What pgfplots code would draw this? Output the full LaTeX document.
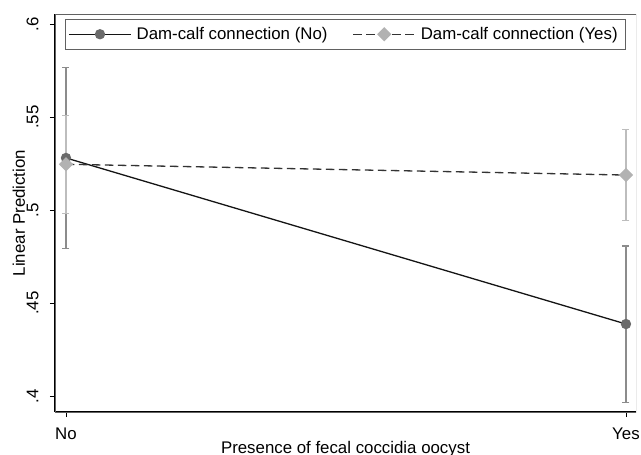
\documentclass[border=0pt]{standalone}
\usepackage{fontspec}
\setmainfont{Liberation Sans}
\usepackage{pgfplots}
\pgfplotsset{compat=1.18}

\definecolor{meanNo}{gray}{0.42}
\definecolor{ciNo}{gray}{0.55}
\definecolor{meanYes}{gray}{0.70}
\definecolor{ciYes}{gray}{0.74}
\definecolor{lineNo}{gray}{0.08}
\definecolor{lineYes}{gray}{0.20}
\definecolor{framegray}{gray}{0.38}

\newcommand{\chartfont}{\fontsize{16.9}{19.5}\selectfont}

\begin{document}
\begin{tikzpicture}
\path[use as bounding box] (-55bp,-43bp) rectangle (586bp,412bp);
\begin{axis}[
  scale only axis, width=581bp, height=398bp,
  xmin=-0.0196, xmax=1.0179, ymin=0.3914, ymax=0.6054,
  xtick={0,1}, xticklabels={No,Yes},
  ytick={0.4,0.45,0.5,0.55,0.6}, yticklabels={.4,.45,.5,.55,.6},
  tick align=outside, major tick length=5bp,
  every tick/.style={black, line width=0.9bp},
  axis x line*=bottom, axis y line*=left,
  axis line style={black, line width=1.2bp, -},
  font=\chartfont,
  yticklabel style={rotate=90, anchor=base, inner sep=0pt, font=\chartfont},
  xticklabel style={anchor=base, inner sep=0pt, font=\chartfont},
  yticklabel shift=11.7bp,
  xticklabel shift=22.5bp,
  xlabel={Presence of fecal coccidia oocyst},
  ylabel={Linear Prediction},
  xlabel style={at={([yshift=-41bp]axis description cs:0.5,0)}, anchor=base, inner sep=0pt, font=\chartfont},
  ylabel style={at={([xshift=-30bp]axis description cs:0,0.5)}, anchor=base, inner sep=0pt, rotate=0, font=\chartfont},
  legend columns=2,
  legend style={at={([yshift=-5bp]axis description cs:0.5,1)}, anchor=north,
    draw=framegray, line width=0.8bp, inner xsep=3bp, inner ysep=1.5bp,
    nodes={font=\chartfont, inner xsep=5bp, inner ysep=6.5bp},
    /tikz/every even column/.append style={column sep=20bp}},
  legend cell align=left,
  legend image code/.code={\draw[mark repeat=2,mark phase=2,#1] plot coordinates {(0bp,0bp) (31bp,0bp) (62bp,0bp)};},
]
% plot region outline
\draw[framegray, line width=0.8bp] (rel axis cs:0,0) rectangle (rel axis cs:1,1);

% 95% confidence intervals
\addplot[ciNo, forget plot, only marks, mark=none,
  error bars/.cd, y dir=both, y explicit,
  error bar style={ciNo, line width=1.2bp},
  error mark options={ciNo, rotate=90, mark size=3.5bp, line width=1.2bp}]
  coordinates {(0,0.528) +- (0,0.0485) (1,0.4387) +- (0,0.042)};
\addplot[ciYes, forget plot, only marks, mark=none,
  error bars/.cd, y dir=both, y explicit,
  error bar style={ciYes, line width=1.2bp},
  error mark options={ciYes, rotate=90, mark size=3.5bp, line width=1.2bp}]
  coordinates {(0,0.5246) +- (0,0.0264) (1,0.5188) +- (0,0.0244)};

% predicted margins
\addplot[lineNo, line width=1.3bp, mark=*, mark size=4.5bp,
  mark options={solid, fill=meanNo, draw=meanNo}]
  coordinates {(0,0.528) (1,0.4387)};
\addlegendentry{Dam-calf connection (No)}
\addplot[lineYes, line width=1.3bp, dash pattern=on 8.5bp off 4.5bp,
  mark=square*, mark size=4.4bp,
  mark options={solid, rotate=45, fill=meanYes, draw=meanYes}]
  coordinates {(0,0.5246) (1,0.5188)};
\addlegendentry{Dam-calf connection (Yes)}
\end{axis}
\end{tikzpicture}
\end{document}
